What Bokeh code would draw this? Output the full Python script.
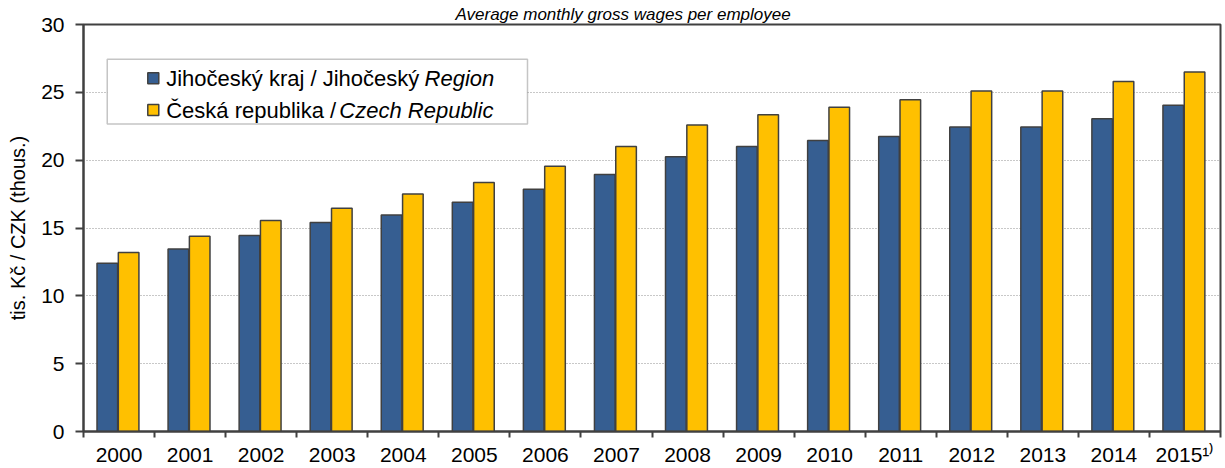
from bokeh.plotting import figure
from bokeh.models import Range1d, FixedTicker, ColumnDataSource, Label, BoxAnnotation
from bokeh.transform import dodge
from bokeh.embed import file_html
from bokeh.resources import INLINE

# ---- data ----
years = [str(y) for y in range(2000, 2016)]
year_labels = years[:-1] + ["2015\u00b9\u207e"]
jihocesky = [12.4, 13.45, 14.45, 15.4, 15.95, 16.9, 17.85, 18.95, 20.25, 21.0,
             21.45, 21.75, 22.45, 22.45, 23.05, 24.05]
cr = [13.2, 14.4, 15.55, 16.45, 17.5, 18.35, 19.55, 21.0, 22.6, 23.35,
      23.9, 24.45, 25.1, 25.1, 25.8, 26.5]
y_ticks = [0, 5, 10, 15, 20, 25, 30]

title_text = "Average monthly gross wages  per employee"
series1_a, series1_b = "Jihočeský kraj / Jihočeský", "Region"
series2_a, series2_b = "Česká republika /", "Czech Republic"
y_title = "tis. Kč / CZK (thous.)"

FONT = "Liberation Sans"
BLUE = "#365E91"
YELLOW = "#FFC000"
DARK = "#404040"

n = len(years)
src = ColumnDataSource(dict(x=list(range(n)), j=jihocesky, c=cr))

p = figure(width=1225, height=468, output_backend="svg", toolbar_location=None,
           x_range=Range1d(0, n), y_range=Range1d(0, 30),
           min_border_left=83, min_border_right=5, min_border_top=24, min_border_bottom=35)
p.background_fill_color = "white"
p.border_fill_color = "white"
p.outline_line_color = DARK
p.outline_line_width = 2

# title
p.title.text = title_text
p.title.text_font = FONT
p.title.text_font_size = "17px"
p.title.text_font_style = "italic"
p.title.text_color = "black"
p.title.align = "left"
p.title.offset = 372
p.title.standoff = 1

p.vbar(x=dodge("x", 0.335), top="j", width=0.29, source=src,
       fill_color=BLUE, line_color=DARK, line_width=1.5)
p.vbar(x=dodge("x", 0.635), top="c", width=0.29, source=src,
       fill_color=YELLOW, line_color=DARK, line_width=1.5)

# y axis
p.yaxis.ticker = FixedTicker(ticks=y_ticks)
p.yaxis.axis_line_color = DARK
p.yaxis.axis_line_width = 2
p.yaxis.major_tick_line_color = DARK
p.yaxis.major_tick_line_width = 2
p.yaxis.major_tick_out = 8
p.yaxis.major_tick_in = 0
p.yaxis.minor_tick_line_color = None
p.yaxis.major_label_text_font = FONT
p.yaxis.major_label_text_font_size = "21px"
p.yaxis.major_label_text_color = "black"
p.yaxis.major_label_standoff = 11
p.yaxis.axis_label = y_title
p.yaxis.axis_label_text_font = FONT
p.yaxis.axis_label_text_font_size = "20px"
p.yaxis.axis_label_text_font_style = "normal"
p.yaxis.axis_label_text_color = "black"
p.yaxis.axis_label_standoff = 9

# x axis: labels at group centres, ticks at boundaries
centers = [i + 0.5 for i in range(n)]
p.xaxis.ticker = FixedTicker(ticks=centers, minor_ticks=list(range(n + 1)))
p.xaxis.major_label_overrides = {c: lab for c, lab in zip(centers, year_labels)}
p.xaxis.axis_line_color = DARK
p.xaxis.axis_line_width = 2
p.xaxis.major_tick_out = 0
p.xaxis.major_tick_in = 0
p.xaxis.minor_tick_out = 6
p.xaxis.minor_tick_in = 0
p.xaxis.minor_tick_line_color = DARK
p.xaxis.minor_tick_line_width = 2
p.xaxis.major_label_text_font = FONT
p.xaxis.major_label_text_font_size = "21px"
p.xaxis.major_label_text_color = "black"
p.xaxis.major_label_standoff = 5

# grid
p.xgrid.visible = False
p.ygrid.ticker = FixedTicker(ticks=y_ticks[1:-1])
p.ygrid.grid_line_color = "#909090"
p.ygrid.grid_line_dash = "1 2"
p.ygrid.grid_line_width = 1

# legend
p.add_layout(BoxAnnotation(left=0.334, right=6.248, bottom=22.67, top=27.43,
                           fill_color="white", fill_alpha=1.0,
                           line_color=DARK, line_width=1.5))
mk = p.scatter(x=[0.982, 0.982], y=[26.04, 23.69], marker="square", size=11,
               fill_color=[BLUE, YELLOW], line_color=DARK, line_width=1.5)
mk.level = "overlay"
for xx, yy, txt, style in [(1.164, 26.04, series1_a, "normal"),
                           (4.80, 26.04, series1_b, "italic"),
                           (1.164, 23.69, series2_a, "normal"),
                           (3.60, 23.69, series2_b, "italic")]:
    p.add_layout(Label(x=xx, y=yy, text=txt, text_align="left", text_baseline="middle",
                       text_font=FONT, text_font_size="22px", text_font_style=style,
                       text_color="black"))

open("out.html", "w").write(file_html(p, INLINE))
